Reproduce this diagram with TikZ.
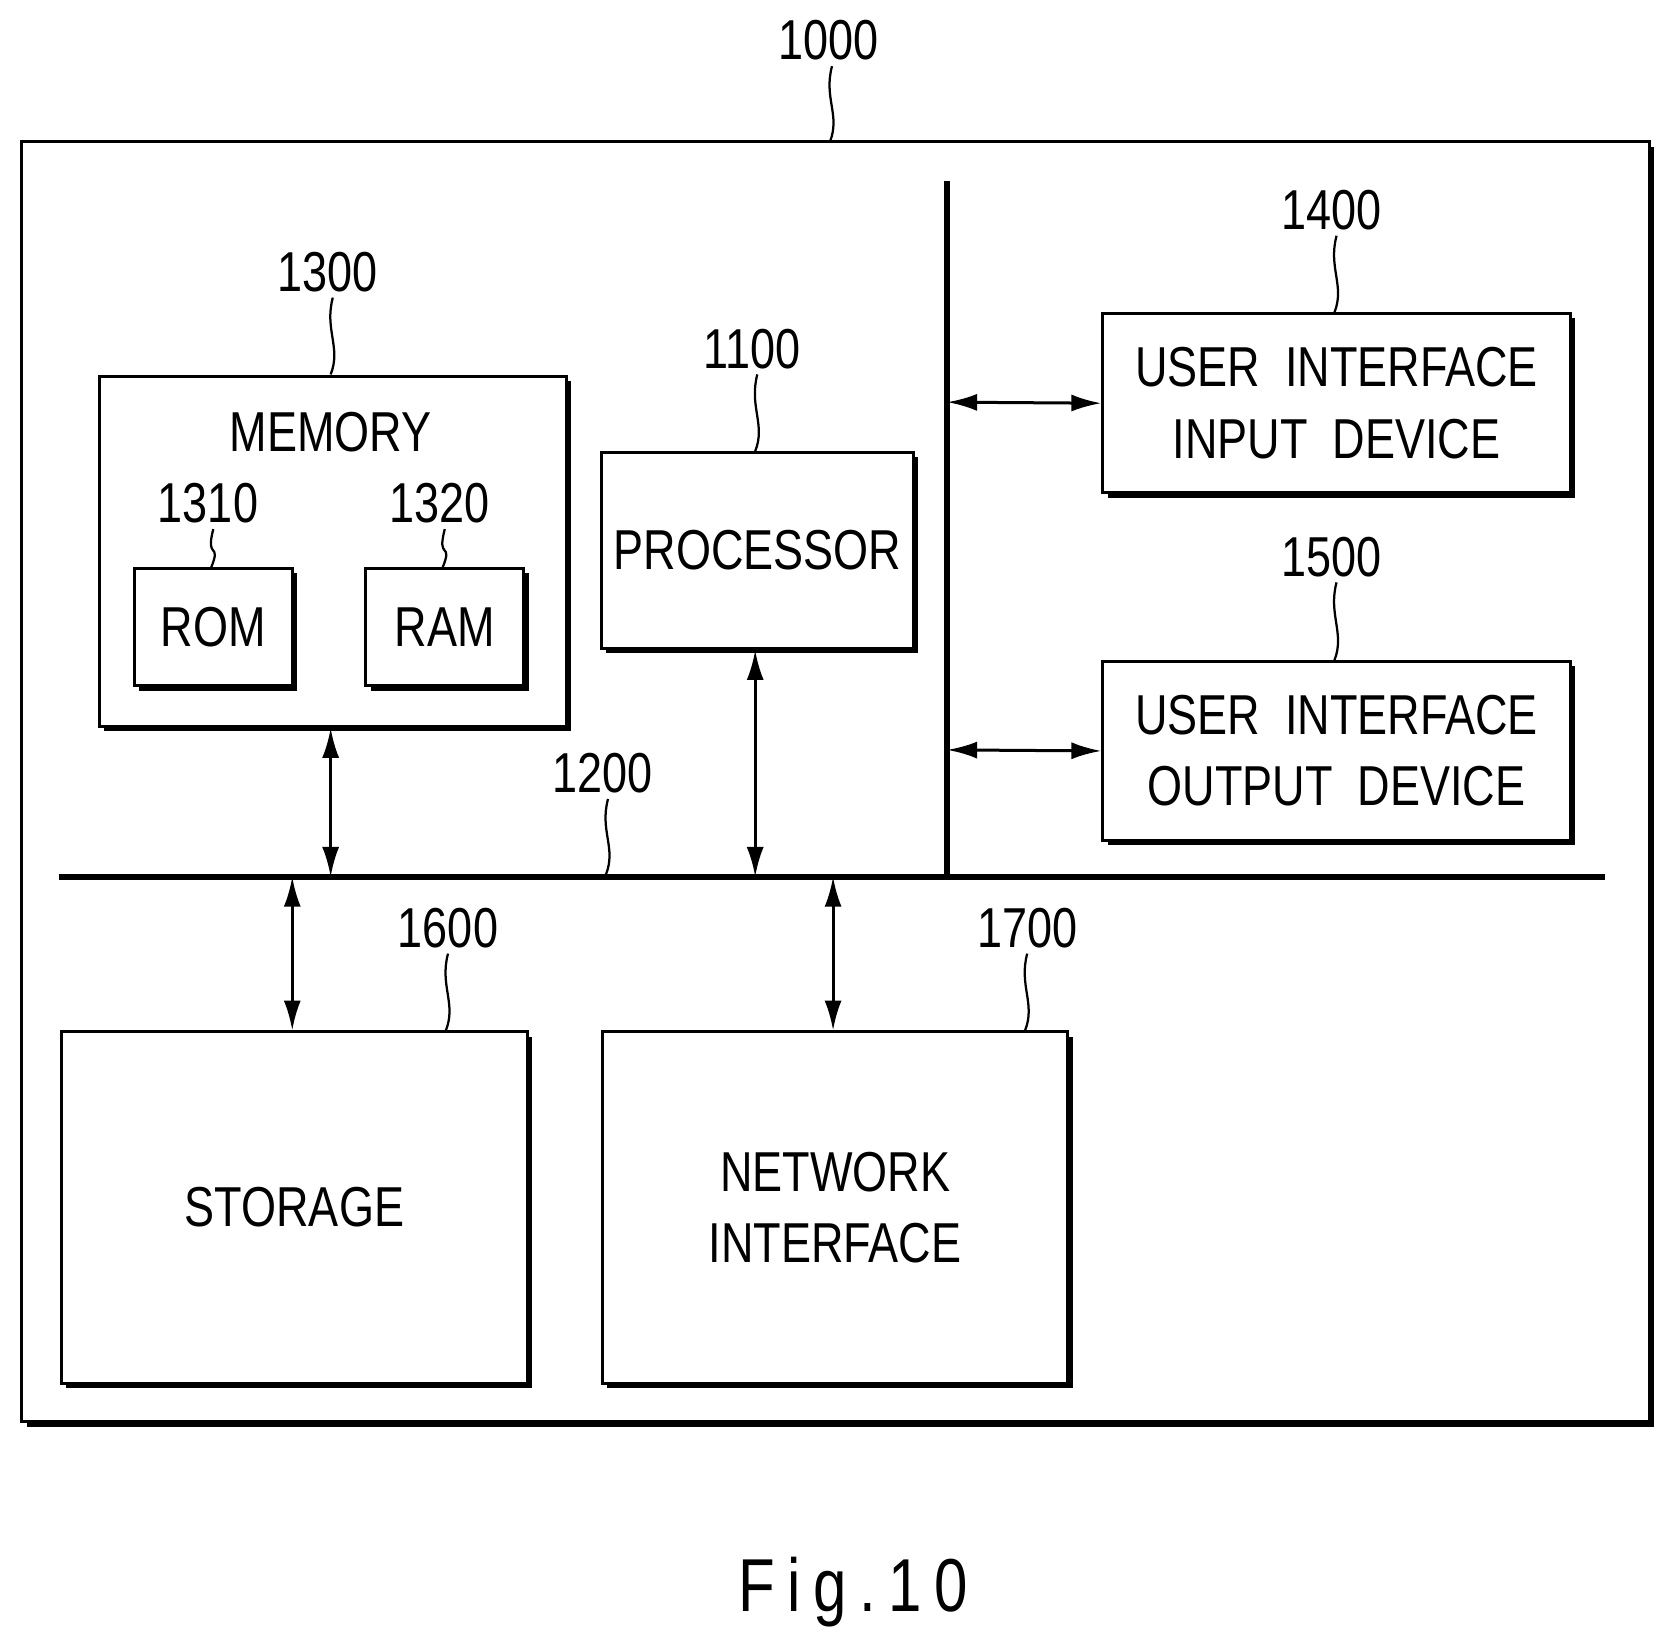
\documentclass[tikz,border=0pt]{standalone}
\usepackage{fontspec}
\setmainfont[FakeStretch=0.8]{Liberation Sans}
\usetikzlibrary{shadows,arrows.meta}
\tikzset{
  blk/.style={draw=black, line width=0.8pt, fill=white, align=center,
    drop shadow={shadow xshift=0.045cm, shadow yshift=-0.045cm, fill=black, opacity=1}},
  lbl/.style={font=\fontsize{15}{19}\selectfont},
  bus/.style={line width=1.6pt},
  link/.style={line width=0.8pt, {Latex[length=0.28cm,width=0.16cm]}-{Latex[length=0.28cm,width=0.16cm]}},
}
\newcommand{\leadline}[3]{\draw[line width=0.6pt] (#1,#2) .. controls (#1-8,#2+30) and (#1+8,#3-25) .. (#1-2,#3);}
\begin{document}
\begin{tikzpicture}[x=0.01cm,y=-0.01cm]
\useasboundingbox (0,0) rectangle (1560,1535);
% outer frame
\draw[line width=0.8pt, fill=white, drop shadow={shadow xshift=0.05cm, shadow yshift=-0.05cm, fill=black, opacity=1}] (20,133) rectangle (1546,1333);
\node[lbl] (n1000) at (777,38) {1000};
\leadline{780}{62}{133}
% buses
\draw[bus] (888,170) -- (888,822);
\draw[bus] (55,822) -- (1505,822);
\coordinate (b1) at (310,822);
\coordinate (b2) at (708,822);
\coordinate (b3) at (274,822);
\coordinate (b4) at (781,822);
\coordinate (v1) at (888,377);
\coordinate (v2) at (888,703);
% blocks
\node[blk, lbl, minimum width=4.37cm, minimum height=3.28cm] (mem) at (312,517) {};
\node[lbl] at (310,405) {MEMORY};
\node[blk, lbl, minimum width=1.48cm, minimum height=1.1cm] (rom) at (200,588) {ROM};
\node[blk, lbl, minimum width=1.48cm, minimum height=1.1cm] (ram) at (417,588) {RAM};
\node[blk, lbl, minimum width=2.92cm, minimum height=1.84cm] (proc) at (710,516) {PROCESSOR};
\node[blk, lbl, minimum width=4.38cm, minimum height=1.68cm] (uin) at (1253,378) {USER\ \ INTERFACE\\INPUT\ \ DEVICE};
\node[blk, lbl, minimum width=4.38cm, minimum height=1.68cm] (uout) at (1253,704) {USER\ \ INTERFACE\\OUTPUT\ \ DEVICE};
\node[blk, lbl, minimum width=4.37cm, minimum height=3.29cm] (stor) at (276,1132) {STORAGE};
\node[blk, lbl, minimum width=4.36cm, minimum height=3.29cm] (net) at (783,1132) {NETWORK\\INTERFACE};
% reference numerals
\node[lbl] (n1300) at (307,255) {1300};
\leadline{312}{279}{351}
\node[lbl] (n1310) at (195,472) {1310};
\leadline{200}{496}{532}
\node[lbl] (n1320) at (412,472) {1320};
\leadline{417}{496}{532}
\node[lbl] (n1100) at (705,327) {1100};
\leadline{710}{351}{423}
\node[lbl] (n1400) at (1248,197) {1400};
\leadline{1253}{221}{293}
\node[lbl] (n1500) at (1248,522) {1500};
\leadline{1253}{546}{619}
\node[lbl] (n1200) at (565,725) {1200};
\leadline{570}{749}{820}
\node[lbl] (n1600) at (420,870) {1600};
\leadline{420}{894}{966}
\node[lbl] (n1700) at (963,870) {1700};
\leadline{963}{894}{966}
% connectors
\draw[link] (mem.south -| b1) -- (b1);
\draw[link] (proc.south -| b2) -- (b2);
\draw[link] (v1) -- (uin.west);
\draw[link] (v2) -- (uout.west);
\draw[link] (b3) -- (stor.north -| b3);
\draw[link] (b4) -- (net.north -| b4);
\node[font=\fontsize{20}{24}\selectfont] (fig) at (800,1493) {F\,i\,g\,.\,1\,0};
\end{tikzpicture}
\end{document}
